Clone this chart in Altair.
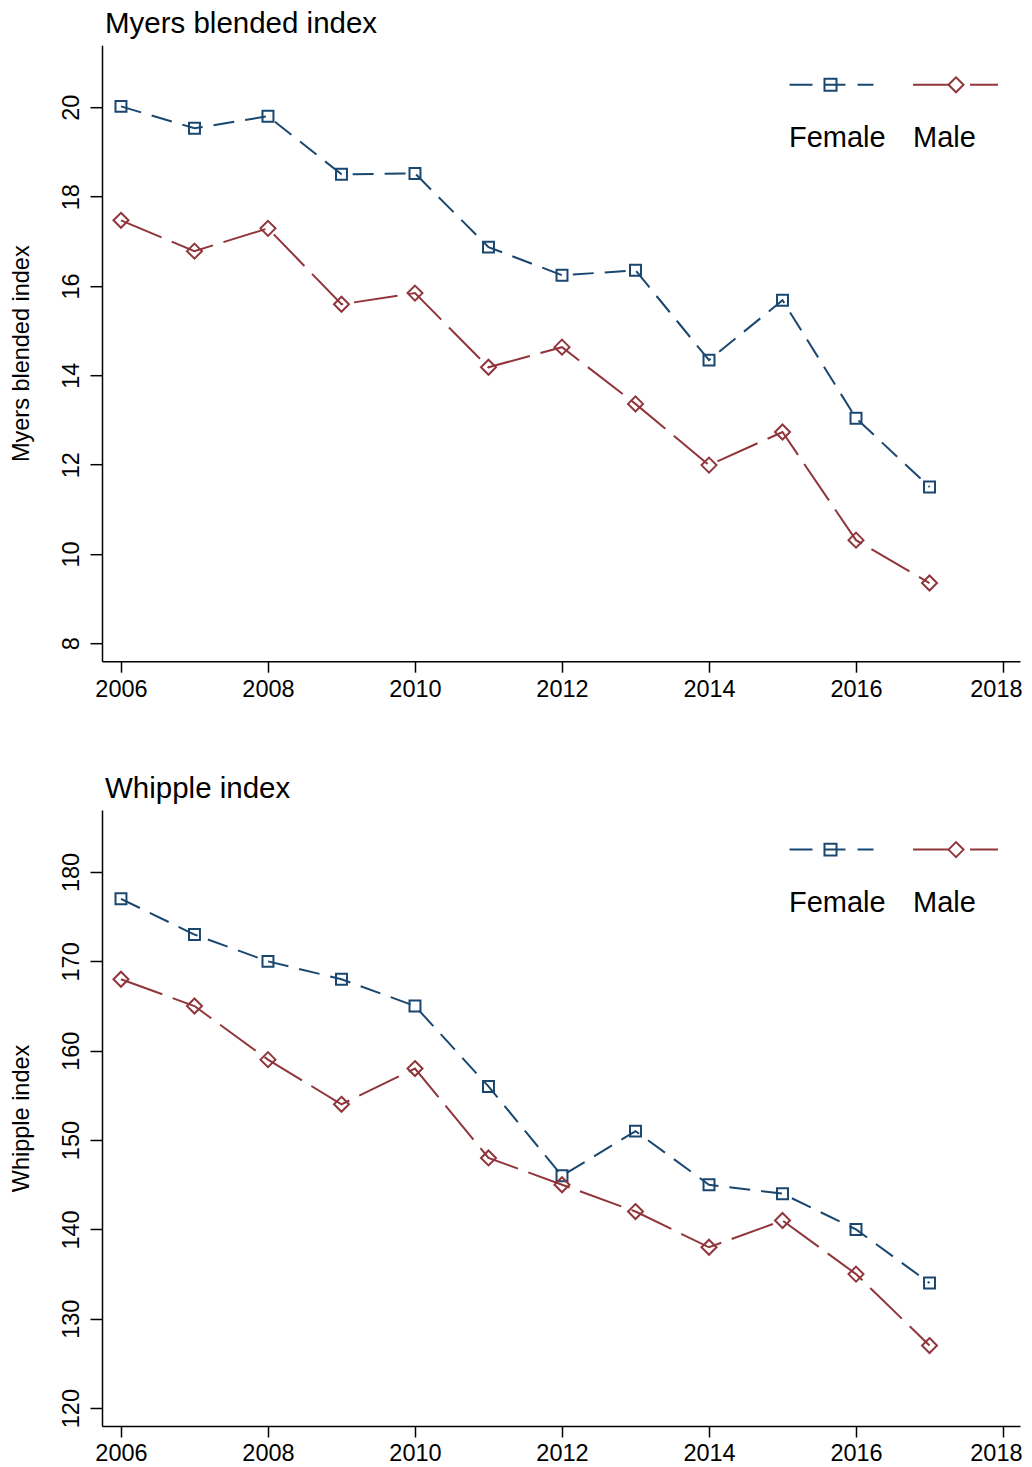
import altair as alt
import pandas as pd

FONT = "Liberation Sans"

years = list(range(2006, 2018))
series = ["Female", "Male"]
colors = ["#1a476f", "#90353b"]

myers_female = [20.02, 19.53, 19.80, 18.50, 18.52, 16.87, 16.24, 16.35, 14.34, 15.68, 13.04, 11.50]
myers_male = [17.47, 16.78, 17.29, 15.59, 15.84, 14.18, 14.63, 13.36, 11.99, 12.73, 10.31, 9.35]
whipple_female = [177, 173, 170, 168, 165, 156, 146, 151, 145, 144, 140, 134]
whipple_male = [168, 165, 159, 154, 158, 148, 145, 142, 138, 141, 135, 127]

x_ticks = [2006, 2008, 2010, 2012, 2014, 2016, 2018]
myers_ticks = [8, 10, 12, 14, 16, 18, 20]
whipple_ticks = [120, 130, 140, 150, 160, 170, 180]

# marker shapes (square smaller than diamond), legend keys (line + marker, drawn above label)
SQUARE = "M-0.73,-0.73L0.73,-0.73L0.73,0.73L-0.73,0.73Z"
DIAMOND = "M0,-1L1,0L0,1L-1,0Z"
FEMALE_KEY = ("M-0.988,-1.25L-0.447,-1.25M-0.188,-1.25L0.329,-1.25M0.612,-1.25L0.988,-1.25"
              "M-0.165,-1.391L0.118,-1.391L0.118,-1.109L-0.165,-1.109Z")
MALE_KEY = ("M-1,-1.25L-0.176,-1.25M0.341,-1.25L1,-1.25"
            "M-0.164,-1.25L0.012,-1.426L0.188,-1.25L0.012,-1.074Z")


def make_df(fem, mal):
    rows = []
    for y, v in zip(years, fem):
        rows.append({"year": y, "series": "Female", "value": v})
    for y, v in zip(years, mal):
        rows.append({"year": y, "series": "Male", "value": v})
    return pd.DataFrame(rows)


def panel(df, title, ytitle, ydomain, yticks):
    legend = alt.Legend(
        title=None, orient="none", legendX=686, legendY=49, direction="horizontal",
        symbolSize=7225, symbolStrokeWidth=2, labelFontSize=29, labelFont=FONT,
        labelColor="black", labelAlign="left", labelOffset={"expr": "-86"},
        labelBaseline="middle", columnPadding=23, padding=0, symbolOpacity=1,
    )
    base = alt.Chart(df).encode(
        x=alt.X("year:Q",
                scale=alt.Scale(domain=[2005.742, 2018.231], nice=False, zero=False),
                axis=alt.Axis(values=x_ticks, format="d", title=None, tickSize=11,
                              labelPadding=5, labelAngle=0, labelFlush=18,
                              labelFlushOffset=19, labelOverlap=False)),
        y=alt.Y("value:Q",
                scale=alt.Scale(domain=ydomain, nice=False, zero=False),
                axis=alt.Axis(values=yticks, title=ytitle, tickSize=12, labelAngle=270,
                              labelAlign="center", labelBaseline="alphabetic",
                              labelPadding=12, titlePadding=26, labelFlush=False,
                              labelOverlap=False)),
    )
    line = base.mark_line(strokeWidth=2).encode(
        color=alt.Color("series:N", scale=alt.Scale(domain=series, range=colors), legend=None),
        strokeDash=alt.StrokeDash("series:N",
                                  scale=alt.Scale(domain=series, range=[[21, 11], [44, 11]]),
                                  legend=None),
    )
    pts = base.mark_point(filled=False, strokeWidth=2, opacity=1, size=225).encode(
        color=alt.Color("series:N", scale=alt.Scale(domain=series, range=colors), legend=None),
        shape=alt.Shape("series:N", scale=alt.Scale(domain=series, range=[SQUARE, DIAMOND]),
                        legend=None),
    )
    key = base.transform_filter("datum.year < 0").mark_point(
        filled=False, strokeWidth=2, opacity=1).encode(
        color=alt.Color("series:N", scale=alt.Scale(domain=series, range=colors),
                        legend=legend),
        shape=alt.Shape("series:N",
                        scale=alt.Scale(domain=series, range=[FEMALE_KEY, MALE_KEY]),
                        legend=legend),
    )
    return alt.layer(line, pts, key).resolve_scale(
        shape="independent", color="independent"
    ).properties(
        width=918, height=616,
        title=alt.TitleParams(title, anchor="start", frame="group", fontSize=29.5, font=FONT,
                              fontWeight="normal", color="black", offset=5.5, dx=3),
    )


top = panel(make_df(myers_female, myers_male), "Myers blended index",
            "Myers blended index", [7.6, 21.39], myers_ticks)
bottom = panel(make_df(whipple_female, whipple_male), "Whipple index",
               "Whipple index", [118, 186.94], whipple_ticks)

chart = (
    alt.vconcat(top, bottom, spacing=72.8)
    .resolve_scale(color="independent", shape="independent", strokeDash="independent")
    .resolve_legend(color="independent", shape="independent")
    .properties(padding={"left": 0, "top": 1.2, "right": 0, "bottom": 0})
    .configure_view(stroke=None)
    .configure_axis(domainColor="black", domainWidth=1.5, tickColor="black", tickWidth=1.5,
                    labelFont=FONT, labelFontSize=23.5, labelColor="black",
                    titleFont=FONT, titleFontSize=23.5, titleFontWeight="normal",
                    titleColor="black", grid=False)
)

chart.save("out.html", embed_options={"renderer": "svg", "actions": False})
